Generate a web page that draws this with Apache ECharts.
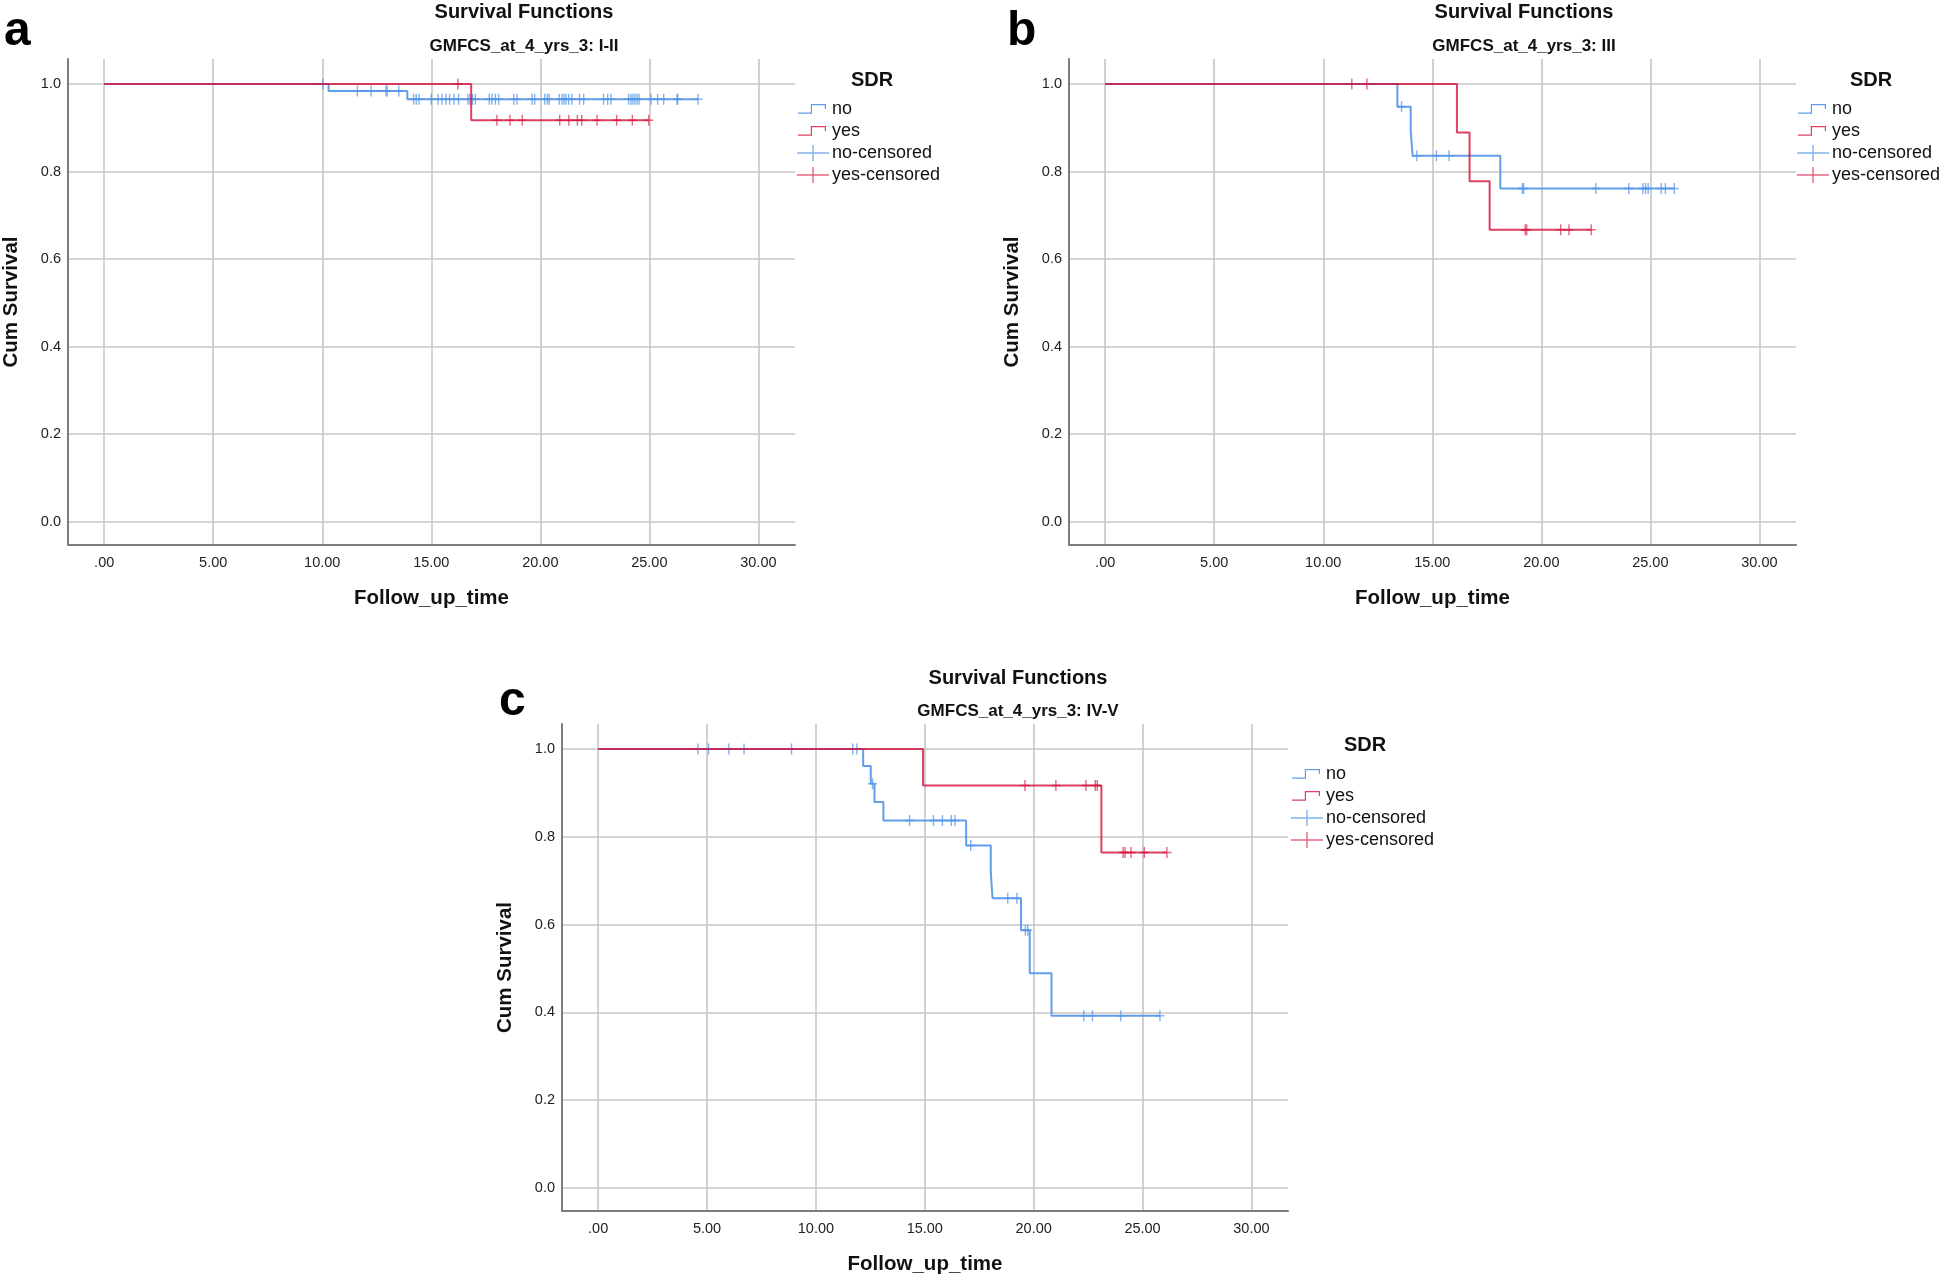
<!DOCTYPE html>
<html>
<head>
<meta charset="utf-8">
<title>Survival Functions</title>
<script src="https://cdn.jsdelivr.net/npm/echarts@6.0.0/dist/echarts.min.js"></script>
<style>
  html, body { margin: 0; padding: 0; background: #fff; }
  #main { width: 1946px; height: 1277px; }
</style>
</head>
<body>
<div id="main"></div>
<script>
// tick values
var xTicks = [0, 5, 10, 15, 20, 25, 30];
var yTicks = [0, 0.2, 0.4, 0.6, 0.8, 1.0];

// panel a : GMFCS I-II
var aNoTime = [0, 10.29, 13.9, 27.23];
var aNoSurv = [1, 0.984, 0.965, 0.965];
var aNoCens = [10.03, 11.61, 12.24, 12.92, 12.98, 13.51, 14.19, 14.31, 14.44, 15.0, 15.31, 15.49, 15.67, 15.84,
  16.04, 16.25, 16.68, 16.77, 16.89, 17.02, 17.66, 17.78, 17.94, 18.09, 18.78, 18.93, 19.62, 19.74, 20.20,
  20.32, 20.41, 20.87, 21.00, 21.09, 21.18, 21.30, 21.45, 21.80, 21.99, 22.90, 23.09, 23.24, 24.05, 24.16,
  24.25, 24.34, 24.44, 24.53, 25.08, 25.38, 25.66, 26.27, 26.30, 27.23];
var aYesTime = [0, 16.83, 24.97];
var aYesSurv = [1, 0.917, 0.917];
var aYesCens = [16.22, 18.01, 18.61, 19.17, 20.89, 21.31, 21.70, 21.90, 22.60, 23.50, 24.22, 24.97];

// panel b : GMFCS III
var bNoTime = [0, 13.40, 14.01, 14.10, 18.12, 26.10];
var bNoSurv = [1, 0.948, 0.893, 0.836, 0.761, 0.761];
var bNoCens = [13.59, 14.29, 15.19, 15.77, 19.13, 19.19, 22.50, 24.01, 24.66, 24.78, 24.90, 25.50, 25.69, 26.10];
var bYesTime = [0, 16.13, 16.71, 17.63, 22.29];
var bYesSurv = [1, 0.889, 0.778, 0.667, 0.667];
var bYesCens = [11.31, 12.00, 19.26, 19.33, 20.89, 21.27, 22.29];

// panel c : GMFCS IV-V
var cNoTime = [0, 12.17, 12.52, 12.69, 13.10, 16.90, 18.03, 18.11, 19.42, 19.82, 20.82, 25.80];
var cNoSurv = [1, 0.961, 0.921, 0.879, 0.837, 0.780, 0.721, 0.660, 0.587, 0.489, 0.392, 0.392];
var cNoCens = [4.58, 5.07, 6.00, 6.70, 8.88, 11.69, 11.88, 12.60, 14.30, 15.40, 15.81, 16.22, 16.39, 17.11,
  18.81, 19.23, 19.62, 19.73, 22.30, 22.70, 24.00, 25.80];
var cYesTime = [0, 14.92, 23.11, 26.12];
var cYesSurv = [1, 0.917, 0.764, 0.764];
var cYesCens = [19.60, 21.02, 22.40, 22.83, 22.92, 24.11, 24.20, 24.47, 25.08, 26.12];

var subTitles = ['GMFCS_at_4_yrs_3: I-II', 'GMFCS_at_4_yrs_3: III', 'GMFCS_at_4_yrs_3: IV-V'];
var panelLetters = ['a', 'b', 'c'];

var BLUE = 'rgba(80,148,232,0.9)';
var RED = 'rgba(212,16,58,0.8)';
var FONT = 'Liberation Sans';

var plusIcon = 'path://M3.8,0H5.2V4.3H9V5.7H5.2V10H3.8V5.7H0V4.3H3.8Z';
var legendPlus = 'path://M15.3,0H16.7V7.3H32V8.7H16.7V16H15.3V8.7H0V7.3H15.3Z';
var legendStep = 'path://M0,0L0.01,0L0,0.01ZM32,16L31.99,16L32,15.99ZM1,11.5H13.8V3H29V8H27.8V4.2H15V12.7H1Z';

function curve(times, surv) {
  var out = [];
  for (var i = 0; i < times.length; i++) out.push([times[i], surv[i]]);
  return out;
}
// y of a censored mark = value of the step curve at that time
function censored(cens, times, surv) {
  var out = [];
  for (var i = 0; i < cens.length; i++) {
    var k = 0;
    for (var j = 0; j < times.length; j++) { if (times[j] <= cens[i]) k = j; }
    out.push([cens[i], surv[k]]);
  }
  return out;
}

var panels = [
  { no: curve(aNoTime, aNoSurv), noC: censored(aNoCens, aNoTime, aNoSurv),
    yes: curve(aYesTime, aYesSurv), yesC: censored(aYesCens, aYesTime, aYesSurv) },
  { no: curve(bNoTime, bNoSurv), noC: censored(bNoCens, bNoTime, bNoSurv),
    yes: curve(bYesTime, bYesSurv), yesC: censored(bYesCens, bYesTime, bYesSurv) },
  { no: curve(cNoTime, cNoSurv), noC: censored(cNoCens, cNoTime, cNoSurv),
    yes: curve(cYesTime, cYesSurv), yesC: censored(cYesCens, cYesTime, cYesSurv) }
];

var grids = [
  { left: 68, top: 59, width: 727, height: 486 },
  { left: 1069, top: 59, width: 727, height: 486 },
  { left: 562, top: 724, width: 726, height: 487 }
];
// title centre x, title y, subtitle y, letter x, letter y, legend x, legend y, SDR x, SDR y
var layout = [
  { tx: 524, ty: 12, sy: 46, lx: 4, ly: 32, gx: 797, gy: 100, hx: 872, hy: 80 },
  { tx: 1524, ty: 12, sy: 46, lx: 1007, ly: 32, gx: 1797, gy: 100, hx: 1871, hy: 80 },
  { tx: 1018, ty: 678, sy: 711, lx: 499, ly: 702, gx: 1291, gy: 765, hx: 1365, hy: 745 }
];

var xAxes = [], yAxes = [], series = [], legends = [], graphics = [];
grids.forEach(function (g, i) {
  g.outerBoundsMode = 'none';
  xAxes.push({
    type: 'value', gridIndex: i, min: -1.66, max: 31.68,
    name: 'Follow_up_time', nameLocation: 'middle', nameGap: 43,
    nameTextStyle: { fontFamily: FONT, fontSize: 20.5, fontWeight: 'bold', color: '#111' },
    axisLine: { show: true, onZero: false, lineStyle: { color: '#7d7d7d', width: 2 } },
    axisTick: { show: false, customValues: xTicks },
    axisLabel: {
      customValues: xTicks, margin: 10, fontFamily: FONT, fontSize: 14.5, color: '#222',
      formatter: function (v) { return v === 0 ? '.00' : v.toFixed(2); }
    },
    splitLine: { show: true, lineStyle: { color: '#c6c6c6', width: 1.6 } }
  });
  yAxes.push({
    type: 'value', gridIndex: i, min: -0.053, max: 1.057,
    name: 'Cum Survival', nameLocation: 'middle', nameGap: 46,
    nameTextStyle: { fontFamily: FONT, fontSize: 20.5, fontWeight: 'bold', color: '#111' },
    axisLine: { show: true, onZero: false, lineStyle: { color: '#7d7d7d', width: 2 } },
    axisTick: { show: false, customValues: yTicks },
    axisLabel: {
      customValues: yTicks, margin: 7, fontFamily: FONT, fontSize: 14.5, color: '#222',
      formatter: function (v) { return v.toFixed(1); }
    },
    splitLine: { show: true, lineStyle: { color: '#c6c6c6', width: 1.6 } }
  });

  var p = panels[i];
  series.push(
    { name: 'no', type: 'line', step: 'end', xAxisIndex: i, yAxisIndex: i, data: p.no,
      showSymbol: false, symbol: 'none', color: BLUE, lineStyle: { color: BLUE, width: 2 } },
    { name: 'no-censored', type: 'scatter', xAxisIndex: i, yAxisIndex: i, data: p.noC,
      symbol: plusIcon, symbolSize: [9, 11], color: BLUE, itemStyle: { color: BLUE } },
    { name: 'yes', type: 'line', step: 'end', xAxisIndex: i, yAxisIndex: i, data: p.yes,
      showSymbol: false, symbol: 'none', color: RED, lineStyle: { color: RED, width: 2 } },
    { name: 'yes-censored', type: 'scatter', xAxisIndex: i, yAxisIndex: i, data: p.yesC,
      symbol: plusIcon, symbolSize: [9, 11], color: RED, itemStyle: { color: RED } }
  );

  var L = layout[i];
  legends.push({
    orient: 'vertical', left: L.gx, top: L.gy, padding: 0, itemGap: 4,
    itemWidth: 32, itemHeight: 16, selectedMode: false,
    textStyle: { fontFamily: FONT, fontSize: 18, color: '#111', padding: [0, 0, 0, -2] },
    data: [
      { name: 'no', icon: legendStep },
      { name: 'yes', icon: legendStep },
      { name: 'no-censored', icon: legendPlus },
      { name: 'yes-censored', icon: legendPlus }
    ]
  });

  graphics.push(
    { type: 'text', x: L.tx, y: L.ty, style: { text: 'Survival Functions', align: 'center', verticalAlign: 'middle',
      font: 'bold 20px ' + FONT, fill: '#111' } },
    { type: 'text', x: L.tx, y: L.sy, style: { text: subTitles[i], align: 'center', verticalAlign: 'middle',
      font: 'bold 17px ' + FONT, fill: '#111' } },
    { type: 'text', x: L.lx, y: L.ly, style: { text: panelLetters[i], align: 'left', verticalAlign: 'middle',
      font: 'bold 48px ' + FONT, fill: '#000' } },
    { type: 'text', x: L.hx, y: L.hy, style: { text: 'SDR', align: 'center', verticalAlign: 'middle',
      font: 'bold 20px ' + FONT, fill: '#111' } }
  );
});

var myChart = echarts.init(document.getElementById('main'));
myChart.setOption({
  backgroundColor: '#fff',
  animation: false,
  textStyle: { fontFamily: FONT },
  grid: grids,
  xAxis: xAxes,
  yAxis: yAxes,
  legend: legends,
  series: series,
  graphic: graphics
});
</script>
</body>
</html>
